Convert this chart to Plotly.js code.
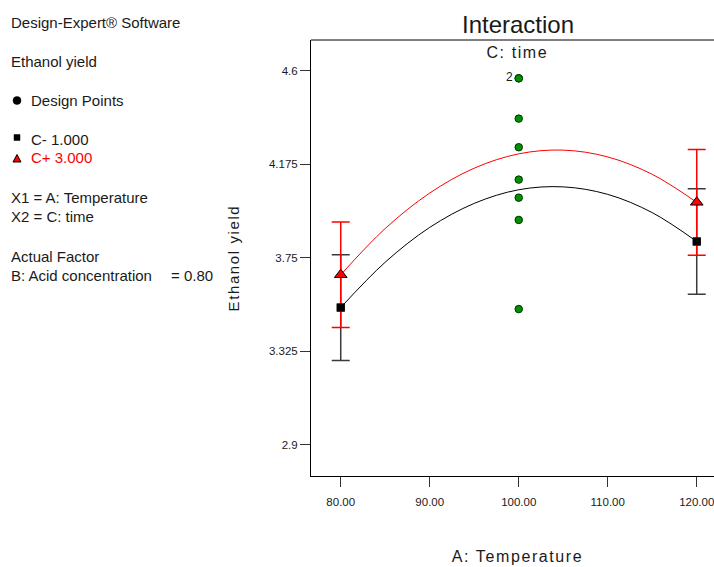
<!DOCTYPE html>
<html>
<head>
<meta charset="utf-8">
<script src="https://cdn.plot.ly/plotly-3.0.1.min.js"></script>
<style>
  html, body { margin: 0; padding: 0; background: #fff; overflow: hidden; }
  #chart { width: 714px; height: 567px; }
  /* Design-Expert style wide-tracked axis captions */
  .annotation.spaced text { letter-spacing: 1.6px; }
</style>
</head>
<body>
<div id="chart"></div>
<script>
// Temperature levels where the model curves are sampled
const temps = [80, 85, 90, 95, 100, 105, 110, 115, 120];
// Predicted Ethanol yield, C- (time = 1.000)
const yieldLow = [3.524, 3.730, 3.888, 3.997, 4.059, 4.072, 4.038, 3.955, 3.824];
// Predicted Ethanol yield, C+ (time = 3.000)
const yieldHigh = [3.673, 3.883, 4.044, 4.157, 4.222, 4.239, 4.208, 4.129, 4.002];

// Factorial end points with LSD bars
const endTemps = [80, 120];
const lowEnds = [3.524, 3.824];
const highEnds = [3.673, 4.002];
const lsdLow = [0.24, 0.24];
const lsdHigh = [0.24, 0.24];

// Observed design points (centre temperature)
const designTemps = [100, 100, 100, 100, 100, 100, 100, 100];
const designYield = [4.565, 4.565, 4.382, 4.252, 4.105, 4.023, 3.922, 3.517];
const replicateLabel = '2';

// Axis ticks
const xTickVals = [80, 90, 100, 110, 120];
const xTickText = ['80.00', '90.00', '100.00', '110.00', '120.00'];
const yTickVals = [2.9, 3.325, 3.75, 4.175, 4.6];
const yTickText = ['2.9', '3.325', '3.75', '4.175', '4.6'];

// Plot area in page pixels
const PL = 311, PR = 714, PT = 40, PB = 476;
const px = x => (x - PL) / (PR - PL);
const py = y => (PB - y) / (PB - PT);

const FONT = 'Liberation Sans, Arial, sans-serif';
const INK = '#1a1a1a';

const traces = [
  { x: temps, y: yieldLow, mode: 'lines', line: { color: '#000', width: 1, shape: 'spline' }, hoverinfo: 'skip' },
  { x: temps, y: yieldHigh, mode: 'lines', line: { color: '#ff0000', width: 1, shape: 'spline' }, hoverinfo: 'skip' },
  { x: endTemps, y: lowEnds, mode: 'markers',
    marker: { symbol: 'square', size: 8, color: '#000' },
    error_y: { type: 'data', array: lsdLow, visible: true, color: '#3a3a3a', thickness: 1.5, width: 9 } },
  { x: endTemps, y: highEnds, mode: 'markers',
    marker: { symbol: 'triangle-up', size: 11, color: '#ff0000', line: { color: '#000', width: 1 } },
    error_y: { type: 'data', array: lsdHigh, visible: true, color: '#ff0000', thickness: 1.5, width: 9 } },
  { x: endTemps, y: lowEnds, mode: 'markers', marker: { symbol: 'square', size: 8, color: '#000' } },
  { x: designTemps, y: designYield, mode: 'markers',
    marker: { symbol: 'circle', size: 7.5, color: '#009000', line: { color: '#003300', width: 1 } } }
];

function note(text, x, y, opts) {
  return Object.assign({
    text: text, xref: 'paper', yref: 'paper', x: px(x), y: py(y),
    xanchor: 'left', yanchor: 'middle', showarrow: false,
    borderpad: 0, borderwidth: 0,
    font: { family: FONT, size: 15, color: INK }
  }, opts || {});
}

const annotations = [
  note('Interaction', 517.5, 24, { xanchor: 'center', font: { family: FONT, size: 24, color: INK } }),
  note('C: time', 517.5, 53, { xanchor: 'center', font: { family: FONT, size: 16, color: INK } }),
  note('A: Temperature', 517.5, 556, { xanchor: 'center', font: { family: FONT, size: 16, color: INK } }),
  note('Ethanol yield', 233.5, 258.5, { xanchor: 'center', textangle: -90, font: { family: FONT, size: 15, color: INK } }),
  note('Design-Expert® Software', 11, 22.5),
  note('Ethanol yield', 11, 61),
  note('Design Points', 31, 100.5),
  note('C- 1.000', 31, 139.5),
  note('C+ 3.000', 31, 157.5, { font: { family: FONT, size: 15, color: '#ff0000' } }),
  note('X1 = A: Temperature', 11, 197.5),
  note('X2 = C: time', 11, 216),
  note('Actual Factor', 11, 256),
  note('B: Acid concentration', 11, 275),
  note('= 0.80', 171, 275),
  { text: replicateLabel, xref: 'x', yref: 'y', x: designTemps[0], y: designYield[0],
    xanchor: 'right', yanchor: 'middle', xshift: -4, yshift: 1, showarrow: false,
    font: { family: FONT, size: 12, color: INK } }
];

const shapes = [
  // top edge of the frame
  { type: 'line', xref: 'paper', yref: 'paper', x0: 0, x1: 1, y0: 1, y1: 1, line: { color: '#000', width: 1 } },
  // key symbols
  { type: 'circle', xref: 'paper', yref: 'paper', x0: px(13), x1: px(21), y0: py(104.5), y1: py(96.5),
    fillcolor: '#000', line: { color: '#000', width: 0.5 } },
  { type: 'rect', xref: 'paper', yref: 'paper', x0: px(14), x1: px(20), y0: py(140.5), y1: py(134.5),
    fillcolor: '#000', line: { color: '#000', width: 0.5 } },
  { type: 'path', xref: 'paper', yref: 'paper',
    path: 'M ' + px(17) + ',' + py(154.5) + ' L ' + px(21) + ',' + py(162) + ' L ' + px(13) + ',' + py(162) + ' Z',
    fillcolor: '#ff0000', line: { color: '#000', width: 1 } }
];

const axisCommon = {
  showgrid: false, zeroline: false, showline: true, linecolor: '#000', linewidth: 1,
  ticks: 'outside', ticklen: 10, tickwidth: 1, tickcolor: '#333',
  tickfont: { family: FONT, size: 11.5, color: INK }, tickmode: 'array', fixedrange: true,
  ticklabeloverflow: 'allow'
};

const layout = {
  width: 714, height: 567,
  margin: { l: PL, r: 714 - PR, t: PT, b: 567 - PB, pad: 0 },
  paper_bgcolor: '#fff', plot_bgcolor: '#fff',
  showlegend: false,
  xaxis: Object.assign({}, axisCommon, { range: [76.66, 121.94], tickvals: xTickVals, ticktext: xTickText, ticklabelstandoff: 5 }),
  yaxis: Object.assign({}, axisCommon, { range: [2.759, 4.739], tickvals: yTickVals, ticktext: yTickText }),
  annotations: annotations,
  shapes: shapes
};

Plotly.newPlot('chart', traces, layout, { staticPlot: true, displayModeBar: false }).then(function (gd) {
  // widen tracking on the chart captions
  [1, 2, 3].forEach(function (i) {
    const g = gd.querySelector('.annotation[data-index="' + i + '"]');
    if (g) g.classList.add('spaced');
  });
});
</script>
</body>
</html>
